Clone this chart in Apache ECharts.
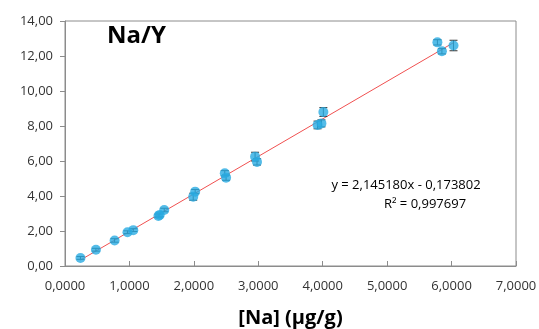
<!DOCTYPE html>
<html><head><meta charset="utf-8">
<script src="https://cdn.jsdelivr.net/npm/echarts@6/dist/echarts.min.js"></script>
<style>html,body{margin:0;padding:0;background:#fff}#c{width:539px;height:329px}</style>
</head><body><div id="c"></div>
<script>
const xValues = [0.24,0.48,0.77,0.97,1.06,1.45,1.47,1.54,1.99,2.02,2.48,2.50,2.95,2.98,3.92,3.98,4.01,5.78,5.85,6.03];
const yValues = [0.46,0.93,1.46,1.93,2.05,2.86,2.92,3.20,3.96,4.25,5.30,5.05,6.25,5.95,8.06,8.15,8.80,12.78,12.27,12.60];
const yErrors = [0.08,0.08,0.10,0.08,0.08,0.10,0.10,0.10,0.20,0.12,0.15,0.15,0.25,0.18,0.22,0.20,0.25,0.15,0.15,0.30];
const slope = 2.145180, intercept = -0.173802;
const trendX = [0.24, 6.03];
const titleText = 'Na/Y';
const eqText = 'y = 2,145180x - 0,173802';
const r2Text = 'R² = 0,997697';
const xName = '[Na] (µg/g)';

const font = '"Open Sans", "Noto Sans", sans-serif';
const pts = xValues.map((x,i)=>[x,yValues[i]]);
const errs = xValues.map((x,i)=>[x,yValues[i]-yErrors[i],yValues[i]+yErrors[i]]);
const trend = trendX.map(x=>[x, slope*x+intercept]);

const chart = echarts.init(document.getElementById('c'));
chart.setOption({
  animation:false,
  textStyle:{fontFamily:font},
  grid:{left:65,right:23,top:21,bottom:63,show:true,borderColor:'#8c8c8c',borderWidth:1,containLabel:false,outerBoundsMode:'none'},
  title:{text:titleText,left:102,top:19,textStyle:{fontFamily:font,fontSize:24,fontWeight:'bold',color:'#000'}},
  graphic:[
    {type:'text',x:406,y:185,style:{text:eqText,fill:'#000',font:'13px '+font,textAlign:'center',textVerticalAlign:'middle'}},
    {type:'text',x:425,y:204,style:{text:r2Text,fill:'#000',font:'13px '+font,textAlign:'center',textVerticalAlign:'middle'}}
  ],
  xAxis:{type:'value',min:0,max:7,interval:1,
    name:xName,nameLocation:'middle',nameGap:42,
    nameTextStyle:{fontFamily:font,fontSize:20,fontWeight:'bold',color:'#000'},
    axisLine:{lineStyle:{color:'#8c8c8c'}},
    axisTick:{show:true,inside:true,length:5,lineStyle:{color:'#8c8c8c'}},
    axisLabel:{color:'#333',fontSize:13,margin:14,formatter:v=>v.toFixed(4).replace('.',',')},
    splitLine:{show:false}},
  yAxis:{type:'value',min:0,max:14,interval:2,
    axisLine:{show:true,lineStyle:{color:'#8c8c8c'}},
    axisTick:{show:true,length:5,lineStyle:{color:'#8c8c8c'}},
    axisLabel:{color:'#333',fontSize:13,margin:12,formatter:v=>v.toFixed(2).replace('.',',')},
    splitLine:{show:false}},
  series:[
    {type:'line',data:trend,symbol:'none',lineStyle:{color:'#f05050',width:1},z:3},
    {type:'custom',data:errs,z:4,
      renderItem:function(params,api){
        const x=api.value(0);
        const lo=api.coord([x,api.value(1)]);
        const hi=api.coord([x,api.value(2)]);
        const w=4;
        const st={stroke:'#333',lineWidth:1};
        return {type:'group',children:[
          {type:'line',shape:{x1:lo[0],y1:lo[1],x2:hi[0],y2:hi[1]},style:st},
          {type:'line',shape:{x1:lo[0]-w,y1:lo[1],x2:lo[0]+w,y2:lo[1]},style:st},
          {type:'line',shape:{x1:hi[0]-w,y1:hi[1],x2:hi[0]+w,y2:hi[1]},style:st}
        ]};
      }},
    {type:'scatter',data:pts,symbolSize:10,itemStyle:{color:'#29abe2'},z:5}
  ]
});
</script></body></html>
